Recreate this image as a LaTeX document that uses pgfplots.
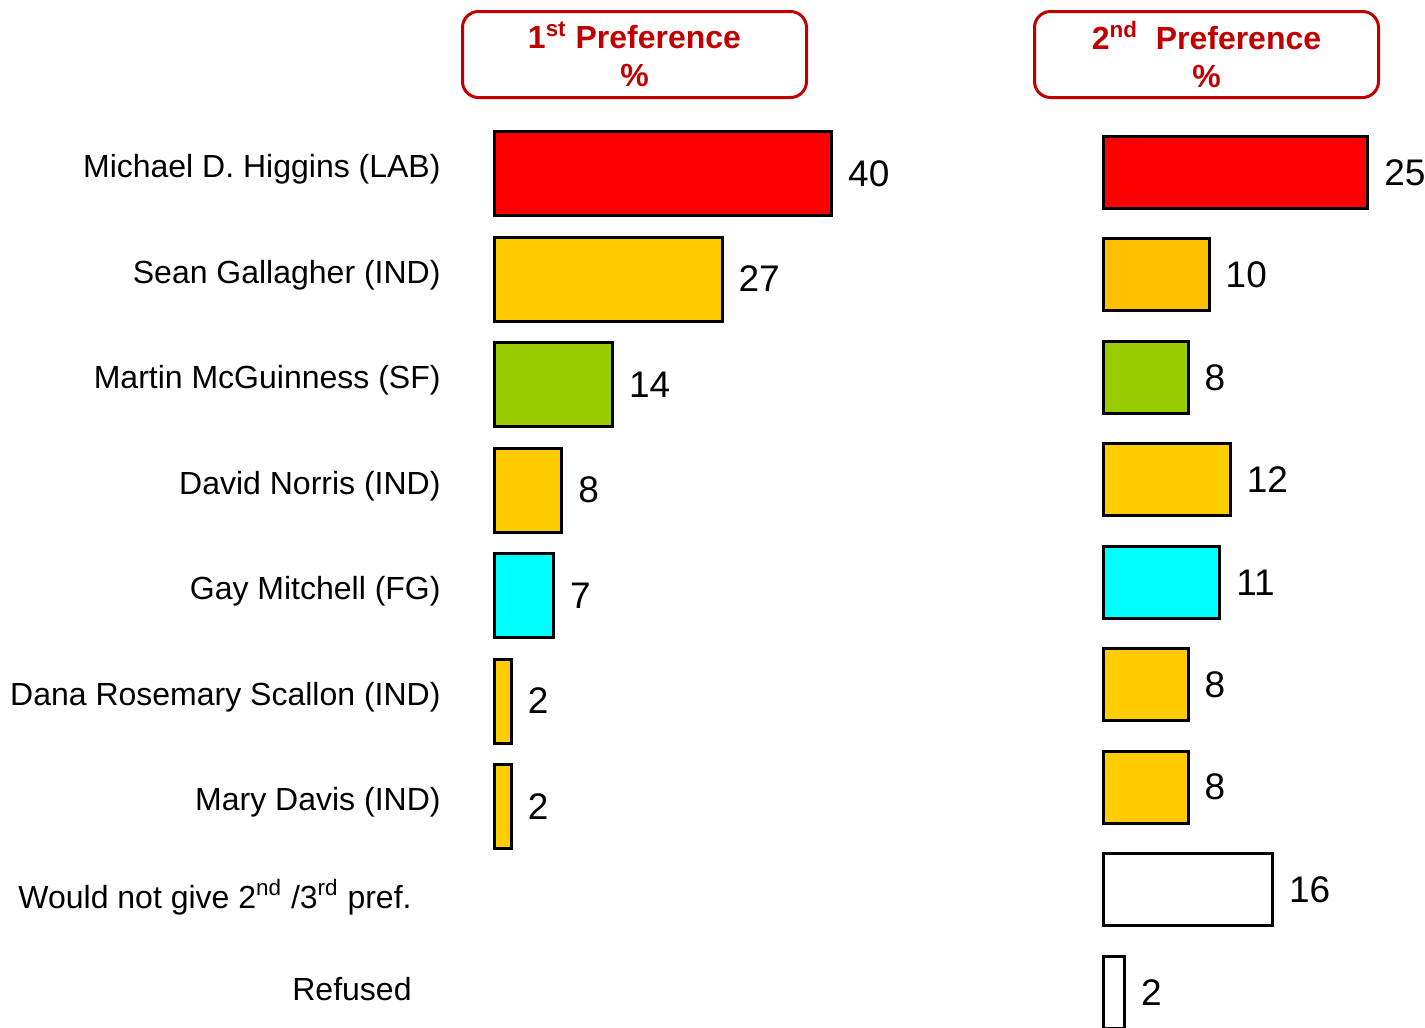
\documentclass[border=0pt]{standalone}
\usepackage{fontspec}
\setmainfont{Liberation Sans}
\usepackage{pgfplots}
\pgfplotsset{compat=1.18}
\definecolor{hdrred}{RGB}{192,0,0}
\definecolor{labred}{RGB}{255,0,0}
\definecolor{indgold}{RGB}{255,204,0}
\definecolor{indorange}{RGB}{255,192,0}
\definecolor{sfgreen}{RGB}{153,204,0}
\definecolor{fgcyan}{RGB}{0,255,255}

\pgfplotsset{
  prefbar/.style={draw=black, line width=1.5pt, bar shift=0pt},
  prefaxis/.style={
    xbar, y dir=reverse, clip=false, xmin=0,
    axis line style={draw=none}, tick style={draw=none}, xtick=\empty,
    nodes near coords, nodes near coords align=horizontal,
    every node near coord/.append style={font=\fontsize{18.5}{22}\selectfont,
      anchor=west, inner sep=0pt, xshift=7.5pt, text=black},
    /pgf/number format/assume math mode=true,
  },
}

\begin{document}
\begin{tikzpicture}
\useasboundingbox (0,0) rectangle (712.5pt,-514pt);

% header boxes
\node[draw=hdrred, line width=1.5pt, rounded corners=8pt, minimum width=172pt,
  minimum height=43pt, align=center, text=hdrred, inner sep=0pt,
  font=\bfseries\fontsize{16}{19}\selectfont] at (317.25pt,-27.25pt)
  {1\textsuperscript{st} Preference\\\%};
\node[draw=hdrred, line width=1.5pt, rounded corners=8pt, minimum width=172pt,
  minimum height=43pt, align=center, text=hdrred, inner sep=0pt,
  font=\bfseries\fontsize{16}{19}\selectfont] at (603.25pt,-27.25pt)
  {2\textsuperscript{nd}\ \ Preference\\\%};

% 1st preference
\begin{axis}[prefaxis,
  at={(247.25pt,-60.375pt)}, anchor=north west,
  x=4.215pt, y=52.75pt, xmax=50, ymin=-0.5, ymax=8.3,
  bar width=42pt,
  ytick={0,...,6},
  yticklabels={Michael D. Higgins (LAB), Sean Gallagher (IND), Martin McGuinness (SF),
    David Norris (IND), Gay Mitchell (FG), Dana Rosemary Scallon (IND), Mary Davis (IND)},
  yticklabel style={font=\fontsize{16}{19}\selectfont, anchor=east, inner sep=0pt,
    xshift=-22.5pt, yshift=2pt},
  extra y ticks={6.90,7.77},
  extra y tick labels={Would not give 2\textsuperscript{nd} /3\textsuperscript{rd} pref., Refused},
  extra y tick style={yticklabel style={xshift=-14.5pt}},
]
\addplot[prefbar, fill=labred] coordinates {(40,0)};
\addplot[prefbar, fill=indgold] coordinates {(27,1) (8,3) (2,5) (2,6)};
\addplot[prefbar, fill=sfgreen] coordinates {(14,2)};
\addplot[prefbar, fill=fgcyan] coordinates {(7,4)};
\end{axis}

% 2nd preference
\begin{axis}[prefaxis,
  at={(551.75pt,-60.65pt)}, anchor=north west,
  x=5.285pt, y=51.225pt, xmax=30, ymin=-0.5, ymax=8.5,
  bar width=36pt, ytick=\empty,
]
\addplot[prefbar, fill=labred] coordinates {(25,0)};
\addplot[prefbar, fill=indorange] coordinates {(10,1)};
\addplot[prefbar, fill=sfgreen] coordinates {(8,2)};
\addplot[prefbar, fill=indgold] coordinates {(12,3) (8,5) (8,6)};
\addplot[prefbar, fill=fgcyan] coordinates {(11,4)};
\addplot[prefbar, fill=white] coordinates {(16,7) (2,8)};
\end{axis}
\end{tikzpicture}
\end{document}
